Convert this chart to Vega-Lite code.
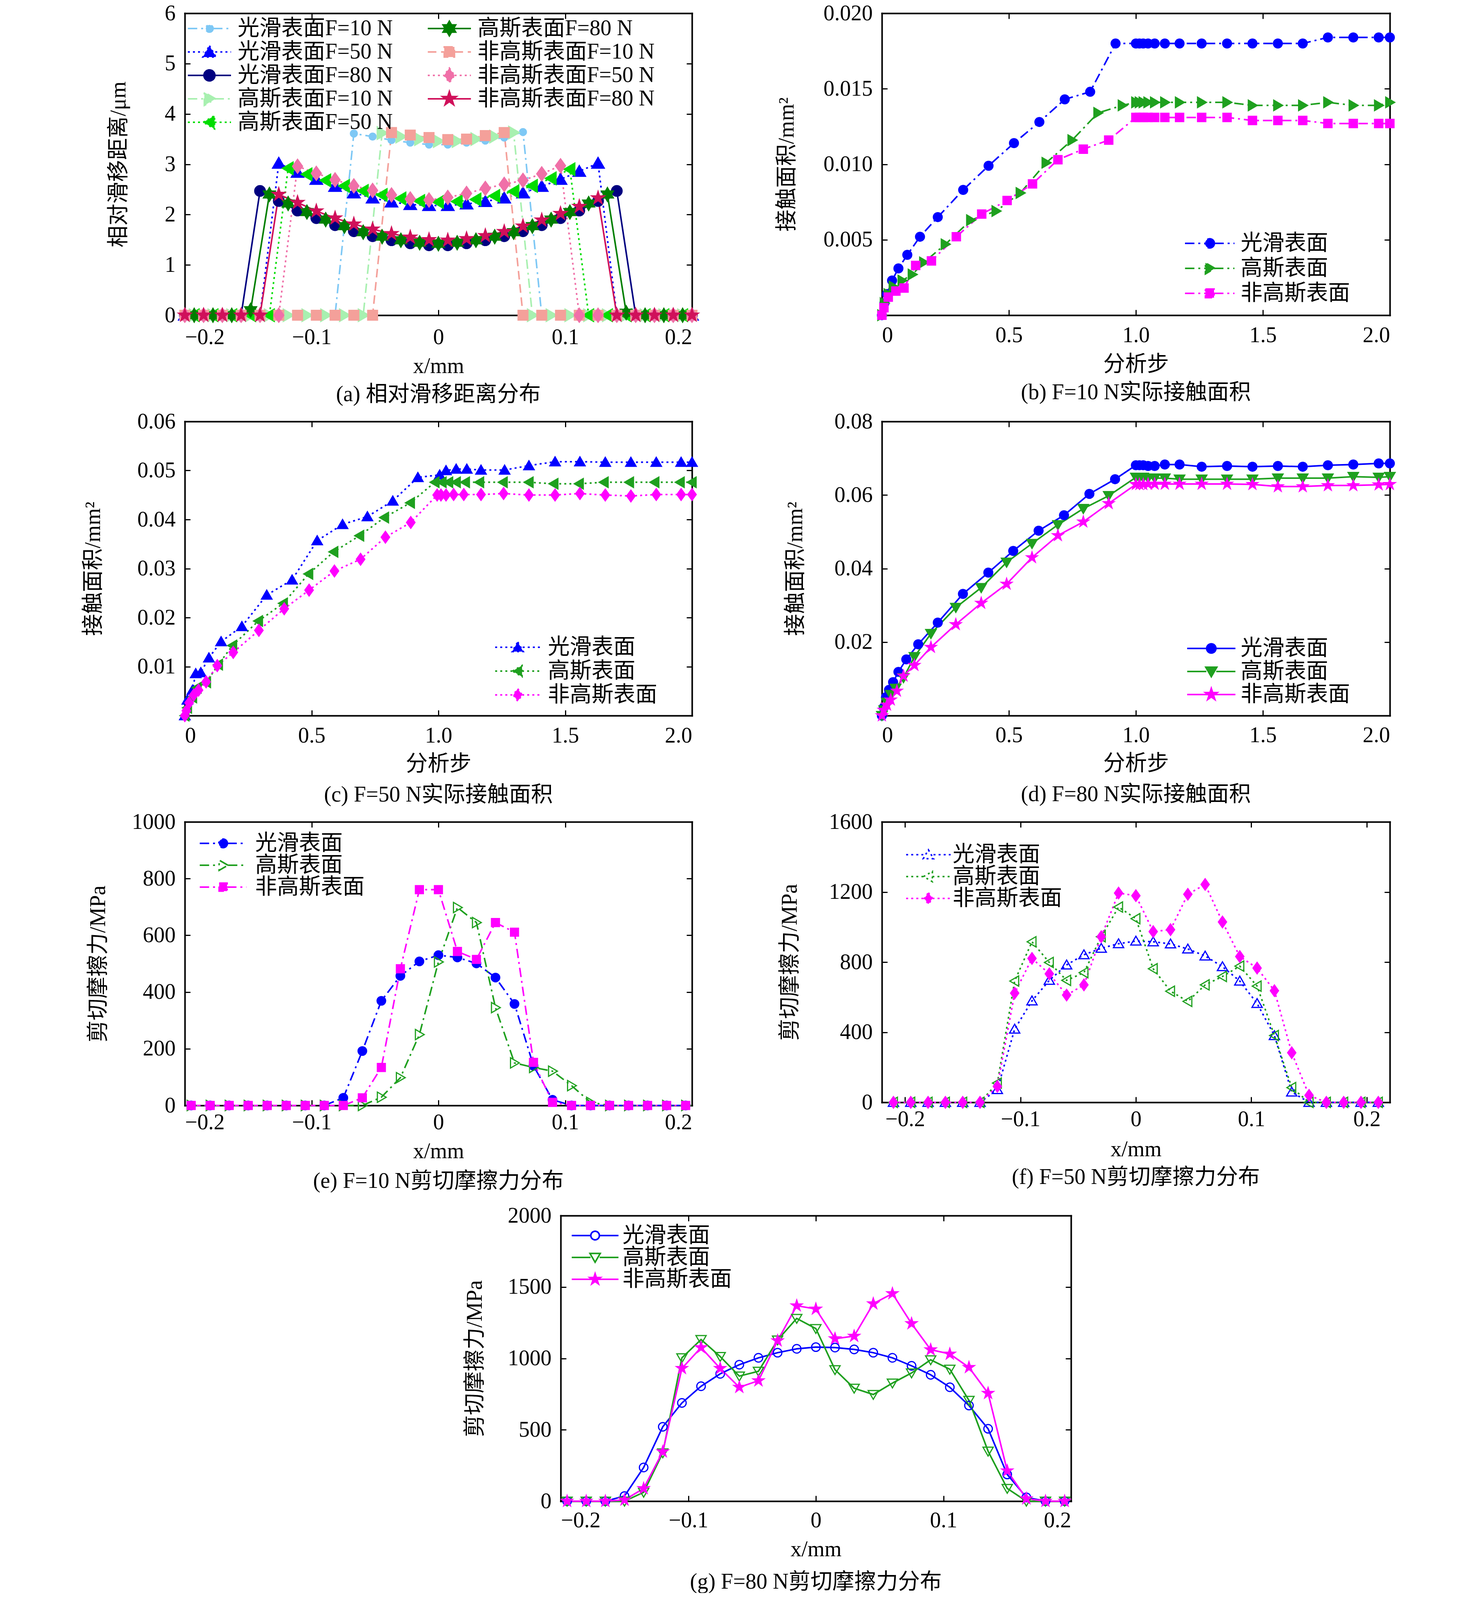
{
  "$schema": "https://vega.github.io/schema/vega-lite/v6.json",
  "background": "white",
  "padding": {"left": 210, "top": 6, "right": 10, "bottom": 0},
  "config": {
    "font": "Liberation Serif, Noto Sans CJK SC",
    "view": {"stroke": null},
    "axis": {"grid": false, "domain": true, "domainColor": "black", "domainWidth": 4, "domainCap": "square", "tickColor": "black", "tickWidth": 3, "tickSize": -14, "labelFont": "Liberation Serif", "labelFontSize": 56, "labelColor": "black", "titleFont": "Liberation Serif, Noto Sans CJK SC", "titleFontSize": 56, "titleFontWeight": "normal", "titleColor": "black"},
    "axisY": {"labelPadding": 38},
    "legend": {"labelFont": "Liberation Serif, Noto Sans CJK SC", "labelFontSize": 56, "labelColor": "black", "labelLimit": 1000, "symbolStrokeWidth": 4, "padding": 0},
    "title": {"font": "Liberation Serif, Noto Sans CJK SC", "fontSize": 56, "fontWeight": "normal", "color": "black", "orient": "bottom", "frame": "group", "offset": 20}
  },
  "datasets": {
    "a": [
      {"s":"光滑表面F=10 N","x":-0.2,"y":0},{"s":"光滑表面F=10 N","x":-0.1852,"y":0},{"s":"光滑表面F=10 N","x":-0.1704,"y":0},{"s":"光滑表面F=10 N","x":-0.1556,"y":0},{"s":"光滑表面F=10 N","x":-0.1407,"y":0},{"s":"光滑表面F=10 N","x":-0.1259,"y":0},{"s":"光滑表面F=10 N","x":-0.1111,"y":0},{"s":"光滑表面F=10 N","x":-0.0963,"y":0},{"s":"光滑表面F=10 N","x":-0.0815,"y":0},{"s":"光滑表面F=10 N","x":-0.0667,"y":3.61},{"s":"光滑表面F=10 N","x":-0.0519,"y":3.55},{"s":"光滑表面F=10 N","x":-0.037,"y":3.48},{"s":"光滑表面F=10 N","x":-0.0222,"y":3.43},{"s":"光滑表面F=10 N","x":-0.0074,"y":3.39},{"s":"光滑表面F=10 N","x":0.0074,"y":3.39},{"s":"光滑表面F=10 N","x":0.0222,"y":3.43},{"s":"光滑表面F=10 N","x":0.037,"y":3.47},{"s":"光滑表面F=10 N","x":0.0519,"y":3.53},{"s":"光滑表面F=10 N","x":0.0667,"y":3.64},{"s":"光滑表面F=10 N","x":0.0815,"y":0},{"s":"光滑表面F=10 N","x":0.0963,"y":0},{"s":"光滑表面F=10 N","x":0.1111,"y":0},{"s":"光滑表面F=10 N","x":0.1259,"y":0},{"s":"光滑表面F=10 N","x":0.1407,"y":0},{"s":"光滑表面F=10 N","x":0.1556,"y":0},{"s":"光滑表面F=10 N","x":0.1704,"y":0},{"s":"光滑表面F=10 N","x":0.1852,"y":0},{"s":"光滑表面F=10 N","x":0.2,"y":0},
      {"s":"光滑表面F=50 N","x":-0.2,"y":0},{"s":"光滑表面F=50 N","x":-0.1852,"y":0},{"s":"光滑表面F=50 N","x":-0.1704,"y":0},{"s":"光滑表面F=50 N","x":-0.1556,"y":0},{"s":"光滑表面F=50 N","x":-0.1407,"y":0},{"s":"光滑表面F=50 N","x":-0.1259,"y":3.02},{"s":"光滑表面F=50 N","x":-0.1111,"y":2.84},{"s":"光滑表面F=50 N","x":-0.0963,"y":2.7},{"s":"光滑表面F=50 N","x":-0.0815,"y":2.56},{"s":"光滑表面F=50 N","x":-0.0667,"y":2.43},{"s":"光滑表面F=50 N","x":-0.0519,"y":2.33},{"s":"光滑表面F=50 N","x":-0.037,"y":2.25},{"s":"光滑表面F=50 N","x":-0.0222,"y":2.2},{"s":"光滑表面F=50 N","x":-0.0074,"y":2.18},{"s":"光滑表面F=50 N","x":0.0074,"y":2.18},{"s":"光滑表面F=50 N","x":0.0222,"y":2.21},{"s":"光滑表面F=50 N","x":0.037,"y":2.26},{"s":"光滑表面F=50 N","x":0.0519,"y":2.33},{"s":"光滑表面F=50 N","x":0.0667,"y":2.43},{"s":"光滑表面F=50 N","x":0.0815,"y":2.56},{"s":"光滑表面F=50 N","x":0.0963,"y":2.7},{"s":"光滑表面F=50 N","x":0.1111,"y":2.86},{"s":"光滑表面F=50 N","x":0.1259,"y":3.02},{"s":"光滑表面F=50 N","x":0.1407,"y":0},{"s":"光滑表面F=50 N","x":0.1556,"y":0},{"s":"光滑表面F=50 N","x":0.1704,"y":0},{"s":"光滑表面F=50 N","x":0.1852,"y":0},{"s":"光滑表面F=50 N","x":0.2,"y":0},
      {"s":"光滑表面F=80 N","x":-0.2,"y":0},{"s":"光滑表面F=80 N","x":-0.1852,"y":0},{"s":"光滑表面F=80 N","x":-0.1704,"y":0},{"s":"光滑表面F=80 N","x":-0.1556,"y":0},{"s":"光滑表面F=80 N","x":-0.1407,"y":2.47},{"s":"光滑表面F=80 N","x":-0.1259,"y":2.27},{"s":"光滑表面F=80 N","x":-0.1111,"y":2.08},{"s":"光滑表面F=80 N","x":-0.0963,"y":1.93},{"s":"光滑表面F=80 N","x":-0.0815,"y":1.79},{"s":"光滑表面F=80 N","x":-0.0667,"y":1.67},{"s":"光滑表面F=80 N","x":-0.0519,"y":1.57},{"s":"光滑表面F=80 N","x":-0.037,"y":1.49},{"s":"光滑表面F=80 N","x":-0.0222,"y":1.43},{"s":"光滑表面F=80 N","x":-0.0074,"y":1.39},{"s":"光滑表面F=80 N","x":0.0074,"y":1.39},{"s":"光滑表面F=80 N","x":0.0222,"y":1.43},{"s":"光滑表面F=80 N","x":0.037,"y":1.49},{"s":"光滑表面F=80 N","x":0.0519,"y":1.57},{"s":"光滑表面F=80 N","x":0.0667,"y":1.67},{"s":"光滑表面F=80 N","x":0.0815,"y":1.79},{"s":"光滑表面F=80 N","x":0.0963,"y":1.93},{"s":"光滑表面F=80 N","x":0.1111,"y":2.08},{"s":"光滑表面F=80 N","x":0.1259,"y":2.27},{"s":"光滑表面F=80 N","x":0.1407,"y":2.47},{"s":"光滑表面F=80 N","x":0.1556,"y":0},{"s":"光滑表面F=80 N","x":0.1704,"y":0},{"s":"光滑表面F=80 N","x":0.1852,"y":0},{"s":"光滑表面F=80 N","x":0.2,"y":0},
      {"s":"高斯表面F=10 N","x":-0.1926,"y":0},{"s":"高斯表面F=10 N","x":-0.1778,"y":0},{"s":"高斯表面F=10 N","x":-0.163,"y":0},{"s":"高斯表面F=10 N","x":-0.1481,"y":0},{"s":"高斯表面F=10 N","x":-0.1333,"y":0},{"s":"高斯表面F=10 N","x":-0.1185,"y":0},{"s":"高斯表面F=10 N","x":-0.1037,"y":0},{"s":"高斯表面F=10 N","x":-0.0889,"y":0},{"s":"高斯表面F=10 N","x":-0.0741,"y":0},{"s":"高斯表面F=10 N","x":-0.0593,"y":0},{"s":"高斯表面F=10 N","x":-0.0444,"y":3.62},{"s":"高斯表面F=10 N","x":-0.0296,"y":3.55},{"s":"高斯表面F=10 N","x":-0.0148,"y":3.5},{"s":"高斯表面F=10 N","x":0,"y":3.46},{"s":"高斯表面F=10 N","x":0.0148,"y":3.46},{"s":"高斯表面F=10 N","x":0.0296,"y":3.5},{"s":"高斯表面F=10 N","x":0.0444,"y":3.55},{"s":"高斯表面F=10 N","x":0.0593,"y":3.63},{"s":"高斯表面F=10 N","x":0.0741,"y":0},{"s":"高斯表面F=10 N","x":0.0889,"y":0},{"s":"高斯表面F=10 N","x":0.1037,"y":0},{"s":"高斯表面F=10 N","x":0.1185,"y":0},{"s":"高斯表面F=10 N","x":0.1333,"y":0},{"s":"高斯表面F=10 N","x":0.1481,"y":0},{"s":"高斯表面F=10 N","x":0.163,"y":0},{"s":"高斯表面F=10 N","x":0.1778,"y":0},{"s":"高斯表面F=10 N","x":0.1926,"y":0},
      {"s":"高斯表面F=50 N","x":-0.1926,"y":0},{"s":"高斯表面F=50 N","x":-0.1778,"y":0},{"s":"高斯表面F=50 N","x":-0.163,"y":0},{"s":"高斯表面F=50 N","x":-0.1481,"y":0},{"s":"高斯表面F=50 N","x":-0.1333,"y":0},{"s":"高斯表面F=50 N","x":-0.1185,"y":2.92},{"s":"高斯表面F=50 N","x":-0.1037,"y":2.8},{"s":"高斯表面F=50 N","x":-0.0889,"y":2.68},{"s":"高斯表面F=50 N","x":-0.0741,"y":2.57},{"s":"高斯表面F=50 N","x":-0.0593,"y":2.47},{"s":"高斯表面F=50 N","x":-0.0444,"y":2.39},{"s":"高斯表面F=50 N","x":-0.0296,"y":2.32},{"s":"高斯表面F=50 N","x":-0.0148,"y":2.27},{"s":"高斯表面F=50 N","x":0,"y":2.25},{"s":"高斯表面F=50 N","x":0.0148,"y":2.26},{"s":"高斯表面F=50 N","x":0.0296,"y":2.3},{"s":"高斯表面F=50 N","x":0.0444,"y":2.37},{"s":"高斯表面F=50 N","x":0.0593,"y":2.46},{"s":"高斯表面F=50 N","x":0.0741,"y":2.57},{"s":"高斯表面F=50 N","x":0.0889,"y":2.72},{"s":"高斯表面F=50 N","x":0.1037,"y":2.9},{"s":"高斯表面F=50 N","x":0.1185,"y":0},{"s":"高斯表面F=50 N","x":0.1333,"y":0},{"s":"高斯表面F=50 N","x":0.1481,"y":0},{"s":"高斯表面F=50 N","x":0.163,"y":0},{"s":"高斯表面F=50 N","x":0.1778,"y":0},{"s":"高斯表面F=50 N","x":0.1926,"y":0},
      {"s":"高斯表面F=80 N","x":-0.1926,"y":0},{"s":"高斯表面F=80 N","x":-0.1778,"y":0},{"s":"高斯表面F=80 N","x":-0.163,"y":0},{"s":"高斯表面F=80 N","x":-0.1481,"y":0.1},{"s":"高斯表面F=80 N","x":-0.1333,"y":2.4},{"s":"高斯表面F=80 N","x":-0.1185,"y":2.22},{"s":"高斯表面F=80 N","x":-0.1037,"y":2.05},{"s":"高斯表面F=80 N","x":-0.0889,"y":1.9},{"s":"高斯表面F=80 N","x":-0.0741,"y":1.77},{"s":"高斯表面F=80 N","x":-0.0593,"y":1.65},{"s":"高斯表面F=80 N","x":-0.0444,"y":1.56},{"s":"高斯表面F=80 N","x":-0.0296,"y":1.49},{"s":"高斯表面F=80 N","x":-0.0148,"y":1.44},{"s":"高斯表面F=80 N","x":0,"y":1.42},{"s":"高斯表面F=80 N","x":0.0148,"y":1.44},{"s":"高斯表面F=80 N","x":0.0296,"y":1.49},{"s":"高斯表面F=80 N","x":0.0444,"y":1.56},{"s":"高斯表面F=80 N","x":0.0593,"y":1.65},{"s":"高斯表面F=80 N","x":0.0741,"y":1.77},{"s":"高斯表面F=80 N","x":0.0889,"y":1.9},{"s":"高斯表面F=80 N","x":0.1037,"y":2.05},{"s":"高斯表面F=80 N","x":0.1185,"y":2.22},{"s":"高斯表面F=80 N","x":0.1333,"y":2.4},{"s":"高斯表面F=80 N","x":0.1481,"y":0.05},{"s":"高斯表面F=80 N","x":0.163,"y":0},{"s":"高斯表面F=80 N","x":0.1778,"y":0},{"s":"高斯表面F=80 N","x":0.1926,"y":0},
      {"s":"非高斯表面F=10 N","x":-0.2,"y":0},{"s":"非高斯表面F=10 N","x":-0.1852,"y":0},{"s":"非高斯表面F=10 N","x":-0.1704,"y":0},{"s":"非高斯表面F=10 N","x":-0.1556,"y":0},{"s":"非高斯表面F=10 N","x":-0.1407,"y":0},{"s":"非高斯表面F=10 N","x":-0.1259,"y":0},{"s":"非高斯表面F=10 N","x":-0.1111,"y":0},{"s":"非高斯表面F=10 N","x":-0.0963,"y":0},{"s":"非高斯表面F=10 N","x":-0.0815,"y":0},{"s":"非高斯表面F=10 N","x":-0.0667,"y":0},{"s":"非高斯表面F=10 N","x":-0.0519,"y":0},{"s":"非高斯表面F=10 N","x":-0.037,"y":3.63},{"s":"非高斯表面F=10 N","x":-0.0222,"y":3.58},{"s":"非高斯表面F=10 N","x":-0.0074,"y":3.53},{"s":"非高斯表面F=10 N","x":0.0074,"y":3.49},{"s":"非高斯表面F=10 N","x":0.0222,"y":3.5},{"s":"非高斯表面F=10 N","x":0.037,"y":3.57},{"s":"非高斯表面F=10 N","x":0.0519,"y":3.63},{"s":"非高斯表面F=10 N","x":0.0667,"y":0},{"s":"非高斯表面F=10 N","x":0.0815,"y":0},{"s":"非高斯表面F=10 N","x":0.0963,"y":0},{"s":"非高斯表面F=10 N","x":0.1111,"y":0},{"s":"非高斯表面F=10 N","x":0.1259,"y":0},{"s":"非高斯表面F=10 N","x":0.1407,"y":0},{"s":"非高斯表面F=10 N","x":0.1556,"y":0},{"s":"非高斯表面F=10 N","x":0.1704,"y":0},{"s":"非高斯表面F=10 N","x":0.1852,"y":0},{"s":"非高斯表面F=10 N","x":0.2,"y":0},
      {"s":"非高斯表面F=50 N","x":-0.2,"y":0},{"s":"非高斯表面F=50 N","x":-0.1852,"y":0},{"s":"非高斯表面F=50 N","x":-0.1704,"y":0},{"s":"非高斯表面F=50 N","x":-0.1556,"y":0},{"s":"非高斯表面F=50 N","x":-0.1407,"y":0},{"s":"非高斯表面F=50 N","x":-0.1259,"y":0},{"s":"非高斯表面F=50 N","x":-0.1111,"y":2.96},{"s":"非高斯表面F=50 N","x":-0.0963,"y":2.82},{"s":"非高斯表面F=50 N","x":-0.0815,"y":2.69},{"s":"非高斯表面F=50 N","x":-0.0667,"y":2.57},{"s":"非高斯表面F=50 N","x":-0.0519,"y":2.48},{"s":"非高斯表面F=50 N","x":-0.037,"y":2.39},{"s":"非高斯表面F=50 N","x":-0.0222,"y":2.31},{"s":"非高斯表面F=50 N","x":-0.0074,"y":2.29},{"s":"非高斯表面F=50 N","x":0.0074,"y":2.34},{"s":"非高斯表面F=50 N","x":0.0222,"y":2.42},{"s":"非高斯表面F=50 N","x":0.037,"y":2.52},{"s":"非高斯表面F=50 N","x":0.0519,"y":2.6},{"s":"非高斯表面F=50 N","x":0.0667,"y":2.68},{"s":"非高斯表面F=50 N","x":0.0815,"y":2.81},{"s":"非高斯表面F=50 N","x":0.0963,"y":2.97},{"s":"非高斯表面F=50 N","x":0.1111,"y":0},{"s":"非高斯表面F=50 N","x":0.1259,"y":0},{"s":"非高斯表面F=50 N","x":0.1407,"y":0},{"s":"非高斯表面F=50 N","x":0.1556,"y":0},{"s":"非高斯表面F=50 N","x":0.1704,"y":0},{"s":"非高斯表面F=50 N","x":0.1852,"y":0},{"s":"非高斯表面F=50 N","x":0.2,"y":0},
      {"s":"非高斯表面F=80 N","x":-0.2,"y":0},{"s":"非高斯表面F=80 N","x":-0.1852,"y":0},{"s":"非高斯表面F=80 N","x":-0.1704,"y":0},{"s":"非高斯表面F=80 N","x":-0.1556,"y":0},{"s":"非高斯表面F=80 N","x":-0.1407,"y":0},{"s":"非高斯表面F=80 N","x":-0.1259,"y":2.4},{"s":"非高斯表面F=80 N","x":-0.1111,"y":2.24},{"s":"非高斯表面F=80 N","x":-0.0963,"y":2.07},{"s":"非高斯表面F=80 N","x":-0.0815,"y":1.93},{"s":"非高斯表面F=80 N","x":-0.0667,"y":1.81},{"s":"非高斯表面F=80 N","x":-0.0519,"y":1.71},{"s":"非高斯表面F=80 N","x":-0.037,"y":1.62},{"s":"非高斯表面F=80 N","x":-0.0222,"y":1.55},{"s":"非高斯表面F=80 N","x":-0.0074,"y":1.5},{"s":"非高斯表面F=80 N","x":0.0074,"y":1.49},{"s":"非高斯表面F=80 N","x":0.0222,"y":1.52},{"s":"非高斯表面F=80 N","x":0.037,"y":1.58},{"s":"非高斯表面F=80 N","x":0.0519,"y":1.66},{"s":"非高斯表面F=80 N","x":0.0667,"y":1.77},{"s":"非高斯表面F=80 N","x":0.0815,"y":1.89},{"s":"非高斯表面F=80 N","x":0.0963,"y":2.02},{"s":"非高斯表面F=80 N","x":0.1111,"y":2.16},{"s":"非高斯表面F=80 N","x":0.1259,"y":2.33},{"s":"非高斯表面F=80 N","x":0.1407,"y":0},{"s":"非高斯表面F=80 N","x":0.1556,"y":0},{"s":"非高斯表面F=80 N","x":0.1704,"y":0},{"s":"非高斯表面F=80 N","x":0.1852,"y":0},{"s":"非高斯表面F=80 N","x":0.2,"y":0}
    ],
    "b": [
      {"s":"光滑表面","x":0,"y":0},{"s":"光滑表面","x":0.01,"y":0.0008},{"s":"光滑表面","x":0.02,"y":0.0014},{"s":"光滑表面","x":0.04,"y":0.0023},{"s":"光滑表面","x":0.065,"y":0.0031},{"s":"光滑表面","x":0.1,"y":0.004},{"s":"光滑表面","x":0.15,"y":0.0052},{"s":"光滑表面","x":0.22,"y":0.0065},{"s":"光滑表面","x":0.32,"y":0.0083},{"s":"光滑表面","x":0.42,"y":0.0099},{"s":"光滑表面","x":0.52,"y":0.0114},{"s":"光滑表面","x":0.62,"y":0.0128},{"s":"光滑表面","x":0.72,"y":0.0143},{"s":"光滑表面","x":0.82,"y":0.0148},{"s":"光滑表面","x":0.92,"y":0.018},{"s":"光滑表面","x":1.0,"y":0.018},{"s":"光滑表面","x":1.014,"y":0.018},{"s":"光滑表面","x":1.029,"y":0.018},{"s":"光滑表面","x":1.048,"y":0.018},{"s":"光滑表面","x":1.074,"y":0.018},{"s":"光滑表面","x":1.114,"y":0.018},{"s":"光滑表面","x":1.172,"y":0.018},{"s":"光滑表面","x":1.259,"y":0.018},{"s":"光滑表面","x":1.359,"y":0.018},{"s":"光滑表面","x":1.459,"y":0.018},{"s":"光滑表面","x":1.559,"y":0.018},{"s":"光滑表面","x":1.657,"y":0.018},{"s":"光滑表面","x":1.756,"y":0.0184},{"s":"光滑表面","x":1.856,"y":0.0184},{"s":"光滑表面","x":1.956,"y":0.0184},{"s":"光滑表面","x":2.0,"y":0.0184},
      {"s":"高斯表面","x":0,"y":0},{"s":"高斯表面","x":0.01,"y":0.0008},{"s":"高斯表面","x":0.025,"y":0.0014},{"s":"高斯表面","x":0.045,"y":0.0019},{"s":"高斯表面","x":0.08,"y":0.0023},{"s":"高斯表面","x":0.12,"y":0.0027},{"s":"高斯表面","x":0.165,"y":0.0035},{"s":"高斯表面","x":0.25,"y":0.0047},{"s":"高斯表面","x":0.35,"y":0.0063},{"s":"高斯表面","x":0.45,"y":0.0069},{"s":"高斯表面","x":0.545,"y":0.0081},{"s":"高斯表面","x":0.647,"y":0.0101},{"s":"高斯表面","x":0.749,"y":0.0116},{"s":"高斯表面","x":0.851,"y":0.0134},{"s":"高斯表面","x":0.947,"y":0.0139},{"s":"高斯表面","x":1.0,"y":0.0141},{"s":"高斯表面","x":1.014,"y":0.0141},{"s":"高斯表面","x":1.029,"y":0.0141},{"s":"高斯表面","x":1.048,"y":0.0141},{"s":"高斯表面","x":1.074,"y":0.0141},{"s":"高斯表面","x":1.114,"y":0.0141},{"s":"高斯表面","x":1.172,"y":0.0141},{"s":"高斯表面","x":1.259,"y":0.0141},{"s":"高斯表面","x":1.359,"y":0.0141},{"s":"高斯表面","x":1.459,"y":0.0139},{"s":"高斯表面","x":1.559,"y":0.0139},{"s":"高斯表面","x":1.657,"y":0.0139},{"s":"高斯表面","x":1.756,"y":0.0141},{"s":"高斯表面","x":1.856,"y":0.0139},{"s":"高斯表面","x":1.956,"y":0.0139},{"s":"高斯表面","x":2.0,"y":0.0141},
      {"s":"非高斯表面","x":0,"y":0},{"s":"非高斯表面","x":0.008,"y":0.0005},{"s":"非高斯表面","x":0.025,"y":0.0012},{"s":"非高斯表面","x":0.055,"y":0.0016},{"s":"非高斯表面","x":0.087,"y":0.0018},{"s":"非高斯表面","x":0.133,"y":0.0033},{"s":"非高斯表面","x":0.195,"y":0.0036},{"s":"非高斯表面","x":0.293,"y":0.0052},{"s":"非高斯表面","x":0.393,"y":0.0067},{"s":"非高斯表面","x":0.493,"y":0.0076},{"s":"非高斯表面","x":0.593,"y":0.0087},{"s":"非高斯表面","x":0.693,"y":0.0103},{"s":"非高斯表面","x":0.793,"y":0.011},{"s":"非高斯表面","x":0.893,"y":0.0116},{"s":"非高斯表面","x":1.0,"y":0.0131},{"s":"非高斯表面","x":1.014,"y":0.0131},{"s":"非高斯表面","x":1.029,"y":0.0131},{"s":"非高斯表面","x":1.048,"y":0.0131},{"s":"非高斯表面","x":1.074,"y":0.0131},{"s":"非高斯表面","x":1.114,"y":0.0131},{"s":"非高斯表面","x":1.172,"y":0.0131},{"s":"非高斯表面","x":1.259,"y":0.0131},{"s":"非高斯表面","x":1.359,"y":0.0131},{"s":"非高斯表面","x":1.459,"y":0.0129},{"s":"非高斯表面","x":1.559,"y":0.0129},{"s":"非高斯表面","x":1.657,"y":0.0129},{"s":"非高斯表面","x":1.756,"y":0.0127},{"s":"非高斯表面","x":1.856,"y":0.0127},{"s":"非高斯表面","x":1.956,"y":0.0127},{"s":"非高斯表面","x":2.0,"y":0.0127}
    ],
    "c": [
      {"s":"光滑表面","x":0,"y":0},{"s":"光滑表面","x":0.01,"y":0.0032},{"s":"光滑表面","x":0.03,"y":0.0052},{"s":"光滑表面","x":0.043,"y":0.0086},{"s":"光滑表面","x":0.063,"y":0.0088},{"s":"光滑表面","x":0.095,"y":0.0118},{"s":"光滑表面","x":0.143,"y":0.0151},{"s":"光滑表面","x":0.225,"y":0.0182},{"s":"光滑表面","x":0.323,"y":0.0246},{"s":"光滑表面","x":0.423,"y":0.0277},{"s":"光滑表面","x":0.522,"y":0.0357},{"s":"光滑表面","x":0.622,"y":0.039},{"s":"光滑表面","x":0.72,"y":0.0406},{"s":"光滑表面","x":0.82,"y":0.0438},{"s":"光滑表面","x":0.919,"y":0.0486},{"s":"光滑表面","x":1.005,"y":0.0491},{"s":"光滑表面","x":1.03,"y":0.05},{"s":"光滑表面","x":1.07,"y":0.0503},{"s":"光滑表面","x":1.112,"y":0.0503},{"s":"光滑表面","x":1.168,"y":0.0501},{"s":"光滑表面","x":1.261,"y":0.0501},{"s":"光滑表面","x":1.357,"y":0.051},{"s":"光滑表面","x":1.46,"y":0.0518},{"s":"光滑表面","x":1.558,"y":0.0518},{"s":"光滑表面","x":1.658,"y":0.0517},{"s":"光滑表面","x":1.759,"y":0.0517},{"s":"光滑表面","x":1.859,"y":0.0517},{"s":"光滑表面","x":1.957,"y":0.0517},{"s":"光滑表面","x":2.0,"y":0.0517},
      {"s":"高斯表面","x":0,"y":0},{"s":"高斯表面","x":0.01,"y":0.0016},{"s":"高斯表面","x":0.03,"y":0.0037},{"s":"高斯表面","x":0.048,"y":0.0057},{"s":"高斯表面","x":0.085,"y":0.0068},{"s":"高斯表面","x":0.132,"y":0.0104},{"s":"高斯表面","x":0.188,"y":0.0143},{"s":"高斯表面","x":0.29,"y":0.0193},{"s":"高斯表面","x":0.388,"y":0.0229},{"s":"高斯表面","x":0.488,"y":0.0289},{"s":"高斯表面","x":0.587,"y":0.0334},{"s":"高斯表面","x":0.689,"y":0.0367},{"s":"高斯表面","x":0.787,"y":0.0404},{"s":"高斯表面","x":0.889,"y":0.0434},{"s":"高斯表面","x":0.986,"y":0.0476},{"s":"高斯表面","x":1.014,"y":0.0476},{"s":"高斯表面","x":1.04,"y":0.0476},{"s":"高斯表面","x":1.07,"y":0.0476},{"s":"高斯表面","x":1.106,"y":0.0476},{"s":"高斯表面","x":1.162,"y":0.0476},{"s":"高斯表面","x":1.255,"y":0.0476},{"s":"高斯表面","x":1.357,"y":0.0476},{"s":"高斯表面","x":1.455,"y":0.0473},{"s":"高斯表面","x":1.555,"y":0.0473},{"s":"高斯表面","x":1.653,"y":0.0476},{"s":"高斯表面","x":1.753,"y":0.0476},{"s":"高斯表面","x":1.853,"y":0.0476},{"s":"高斯表面","x":1.953,"y":0.0476},{"s":"高斯表面","x":2.0,"y":0.0476},
      {"s":"非高斯表面","x":0,"y":0},{"s":"非高斯表面","x":0.006,"y":0.001},{"s":"非高斯表面","x":0.017,"y":0.0026},{"s":"非高斯表面","x":0.035,"y":0.0042},{"s":"非高斯表面","x":0.054,"y":0.0052},{"s":"非高斯表面","x":0.084,"y":0.0069},{"s":"非高斯表面","x":0.128,"y":0.0102},{"s":"非高斯表面","x":0.191,"y":0.0129},{"s":"非高斯表面","x":0.292,"y":0.0174},{"s":"非高斯表面","x":0.392,"y":0.0218},{"s":"非高斯表面","x":0.49,"y":0.0256},{"s":"非高斯表面","x":0.59,"y":0.0295},{"s":"非高斯表面","x":0.693,"y":0.0319},{"s":"非高斯表面","x":0.791,"y":0.0364},{"s":"非高斯表面","x":0.891,"y":0.0394},{"s":"非高斯表面","x":0.995,"y":0.045},{"s":"非高斯表面","x":1.01,"y":0.045},{"s":"非高斯表面","x":1.03,"y":0.045},{"s":"非高斯表面","x":1.06,"y":0.0451},{"s":"非高斯表面","x":1.1,"y":0.0451},{"s":"非高斯表面","x":1.168,"y":0.0451},{"s":"非高斯表面","x":1.257,"y":0.0453},{"s":"非高斯表面","x":1.357,"y":0.045},{"s":"非高斯表面","x":1.46,"y":0.045},{"s":"非高斯表面","x":1.558,"y":0.0453},{"s":"非高斯表面","x":1.658,"y":0.045},{"s":"非高斯表面","x":1.759,"y":0.0448},{"s":"非高斯表面","x":1.859,"y":0.0451},{"s":"非高斯表面","x":1.957,"y":0.0451},{"s":"非高斯表面","x":2.0,"y":0.0451}
    ],
    "d": [
      {"s":"光滑表面","x":0,"y":0},{"s":"光滑表面","x":0.007,"y":0.0022},{"s":"光滑表面","x":0.016,"y":0.005},{"s":"光滑表面","x":0.028,"y":0.007},{"s":"光滑表面","x":0.044,"y":0.0091},{"s":"光滑表面","x":0.065,"y":0.0119},{"s":"光滑表面","x":0.096,"y":0.0153},{"s":"光滑表面","x":0.143,"y":0.0194},{"s":"光滑表面","x":0.22,"y":0.0253},{"s":"光滑表面","x":0.319,"y":0.0331},{"s":"光滑表面","x":0.419,"y":0.0389},{"s":"光滑表面","x":0.517,"y":0.0448},{"s":"光滑表面","x":0.617,"y":0.0503},{"s":"光滑表面","x":0.717,"y":0.0545},{"s":"光滑表面","x":0.817,"y":0.0603},{"s":"光滑表面","x":0.918,"y":0.0643},{"s":"光滑表面","x":1.0,"y":0.0681},{"s":"光滑表面","x":1.014,"y":0.0681},{"s":"光滑表面","x":1.029,"y":0.0681},{"s":"光滑表面","x":1.048,"y":0.0679},{"s":"光滑表面","x":1.074,"y":0.0679},{"s":"光滑表面","x":1.114,"y":0.0683},{"s":"光滑表面","x":1.172,"y":0.0683},{"s":"光滑表面","x":1.259,"y":0.0677},{"s":"光滑表面","x":1.359,"y":0.0679},{"s":"光滑表面","x":1.459,"y":0.0677},{"s":"光滑表面","x":1.559,"y":0.0679},{"s":"光滑表面","x":1.657,"y":0.0677},{"s":"光滑表面","x":1.756,"y":0.0681},{"s":"光滑表面","x":1.856,"y":0.0683},{"s":"光滑表面","x":1.956,"y":0.0686},{"s":"光滑表面","x":2.0,"y":0.0686},
      {"s":"高斯表面","x":0,"y":0},{"s":"高斯表面","x":0.009,"y":0.0015},{"s":"高斯表面","x":0.02,"y":0.0036},{"s":"高斯表面","x":0.035,"y":0.0057},{"s":"高斯表面","x":0.054,"y":0.0074},{"s":"高斯表面","x":0.085,"y":0.0103},{"s":"高斯表面","x":0.128,"y":0.016},{"s":"高斯表面","x":0.193,"y":0.0223},{"s":"高斯表面","x":0.291,"y":0.0294},{"s":"高斯表面","x":0.391,"y":0.0348},{"s":"高斯表面","x":0.491,"y":0.0417},{"s":"高斯表面","x":0.591,"y":0.0468},{"s":"高斯表面","x":0.693,"y":0.0519},{"s":"高斯表面","x":0.793,"y":0.0563},{"s":"高斯表面","x":0.893,"y":0.0598},{"s":"高斯表面","x":1.0,"y":0.0648},{"s":"高斯表面","x":1.014,"y":0.0648},{"s":"高斯表面","x":1.029,"y":0.0648},{"s":"高斯表面","x":1.048,"y":0.0646},{"s":"高斯表面","x":1.074,"y":0.0646},{"s":"高斯表面","x":1.114,"y":0.0646},{"s":"高斯表面","x":1.172,"y":0.0643},{"s":"高斯表面","x":1.259,"y":0.0643},{"s":"高斯表面","x":1.359,"y":0.0643},{"s":"高斯表面","x":1.459,"y":0.0643},{"s":"高斯表面","x":1.559,"y":0.0646},{"s":"高斯表面","x":1.657,"y":0.0646},{"s":"高斯表面","x":1.756,"y":0.0646},{"s":"高斯表面","x":1.856,"y":0.065},{"s":"高斯表面","x":1.956,"y":0.0648},{"s":"高斯表面","x":2.0,"y":0.065},
      {"s":"非高斯表面","x":0,"y":0},{"s":"非高斯表面","x":0.007,"y":0.0015},{"s":"非高斯表面","x":0.02,"y":0.0029},{"s":"非高斯表面","x":0.035,"y":0.0043},{"s":"非高斯表面","x":0.059,"y":0.0067},{"s":"非高斯表面","x":0.085,"y":0.0108},{"s":"非高斯表面","x":0.128,"y":0.0137},{"s":"非高斯表面","x":0.193,"y":0.0186},{"s":"非高斯表面","x":0.291,"y":0.0248},{"s":"非高斯表面","x":0.391,"y":0.0306},{"s":"非高斯表面","x":0.491,"y":0.0358},{"s":"非高斯表面","x":0.591,"y":0.043},{"s":"非高斯表面","x":0.693,"y":0.049},{"s":"非高斯表面","x":0.793,"y":0.0527},{"s":"非高斯表面","x":0.893,"y":0.0577},{"s":"非高斯表面","x":1.0,"y":0.0629},{"s":"非高斯表面","x":1.014,"y":0.0629},{"s":"非高斯表面","x":1.029,"y":0.0629},{"s":"非高斯表面","x":1.048,"y":0.063},{"s":"非高斯表面","x":1.074,"y":0.063},{"s":"非高斯表面","x":1.114,"y":0.063},{"s":"非高斯表面","x":1.172,"y":0.063},{"s":"非高斯表面","x":1.259,"y":0.063},{"s":"非高斯表面","x":1.359,"y":0.063},{"s":"非高斯表面","x":1.459,"y":0.0629},{"s":"非高斯表面","x":1.559,"y":0.0623},{"s":"非高斯表面","x":1.657,"y":0.0623},{"s":"非高斯表面","x":1.756,"y":0.0626},{"s":"非高斯表面","x":1.856,"y":0.0626},{"s":"非高斯表面","x":1.956,"y":0.0628},{"s":"非高斯表面","x":2.0,"y":0.0629}
    ],
    "e": [
      {"s":"光滑表面","x":-0.195,"y":0},{"s":"光滑表面","x":-0.18,"y":0},{"s":"光滑表面","x":-0.165,"y":0},{"s":"光滑表面","x":-0.15,"y":0},{"s":"光滑表面","x":-0.135,"y":0},{"s":"光滑表面","x":-0.12,"y":0},{"s":"光滑表面","x":-0.105,"y":0},{"s":"光滑表面","x":-0.09,"y":0},{"s":"光滑表面","x":-0.075,"y":27},{"s":"光滑表面","x":-0.06,"y":192},{"s":"光滑表面","x":-0.045,"y":369},{"s":"光滑表面","x":-0.03,"y":457},{"s":"光滑表面","x":-0.015,"y":508},{"s":"光滑表面","x":0,"y":530},{"s":"光滑表面","x":0.015,"y":522},{"s":"光滑表面","x":0.03,"y":501},{"s":"光滑表面","x":0.045,"y":451},{"s":"光滑表面","x":0.06,"y":358},{"s":"光滑表面","x":0.075,"y":140},{"s":"光滑表面","x":0.09,"y":20},{"s":"光滑表面","x":0.105,"y":0},{"s":"光滑表面","x":0.12,"y":0},{"s":"光滑表面","x":0.135,"y":0},{"s":"光滑表面","x":0.15,"y":0},{"s":"光滑表面","x":0.165,"y":0},{"s":"光滑表面","x":0.18,"y":0},{"s":"光滑表面","x":0.195,"y":0},
      {"s":"高斯表面","x":-0.195,"y":0},{"s":"高斯表面","x":-0.18,"y":0},{"s":"高斯表面","x":-0.165,"y":0},{"s":"高斯表面","x":-0.15,"y":0},{"s":"高斯表面","x":-0.135,"y":0},{"s":"高斯表面","x":-0.12,"y":0},{"s":"高斯表面","x":-0.105,"y":0},{"s":"高斯表面","x":-0.09,"y":0},{"s":"高斯表面","x":-0.075,"y":0},{"s":"高斯表面","x":-0.06,"y":0},{"s":"高斯表面","x":-0.045,"y":29},{"s":"高斯表面","x":-0.03,"y":98},{"s":"高斯表面","x":-0.015,"y":250},{"s":"高斯表面","x":0,"y":506},{"s":"高斯表面","x":0.015,"y":698},{"s":"高斯表面","x":0.03,"y":645},{"s":"高斯表面","x":0.045,"y":345},{"s":"高斯表面","x":0.06,"y":150},{"s":"高斯表面","x":0.075,"y":134},{"s":"高斯表面","x":0.09,"y":121},{"s":"高斯表面","x":0.105,"y":70},{"s":"高斯表面","x":0.12,"y":11},{"s":"高斯表面","x":0.135,"y":0},{"s":"高斯表面","x":0.15,"y":0},{"s":"高斯表面","x":0.165,"y":0},{"s":"高斯表面","x":0.18,"y":0},{"s":"高斯表面","x":0.195,"y":0},
      {"s":"非高斯表面","x":-0.195,"y":0},{"s":"非高斯表面","x":-0.18,"y":0},{"s":"非高斯表面","x":-0.165,"y":0},{"s":"非高斯表面","x":-0.15,"y":0},{"s":"非高斯表面","x":-0.135,"y":0},{"s":"非高斯表面","x":-0.12,"y":0},{"s":"非高斯表面","x":-0.105,"y":0},{"s":"非高斯表面","x":-0.09,"y":0},{"s":"非高斯表面","x":-0.075,"y":0},{"s":"非高斯表面","x":-0.06,"y":27},{"s":"非高斯表面","x":-0.045,"y":134},{"s":"非高斯表面","x":-0.03,"y":482},{"s":"非高斯表面","x":-0.015,"y":761},{"s":"非高斯表面","x":0,"y":761},{"s":"非高斯表面","x":0.015,"y":543},{"s":"非高斯表面","x":0.03,"y":515},{"s":"非高斯表面","x":0.045,"y":645},{"s":"非高斯表面","x":0.06,"y":611},{"s":"非高斯表面","x":0.075,"y":152},{"s":"非高斯表面","x":0.09,"y":11},{"s":"非高斯表面","x":0.105,"y":0},{"s":"非高斯表面","x":0.12,"y":0},{"s":"非高斯表面","x":0.135,"y":0},{"s":"非高斯表面","x":0.15,"y":0},{"s":"非高斯表面","x":0.165,"y":0},{"s":"非高斯表面","x":0.18,"y":0},{"s":"非高斯表面","x":0.195,"y":0}
    ],
    "f": [
      {"s":"光滑表面","x":-0.21,"y":0},{"s":"光滑表面","x":-0.195,"y":0},{"s":"光滑表面","x":-0.18,"y":0},{"s":"光滑表面","x":-0.165,"y":0},{"s":"光滑表面","x":-0.15,"y":0},{"s":"光滑表面","x":-0.135,"y":0},{"s":"光滑表面","x":-0.12,"y":73},{"s":"光滑表面","x":-0.105,"y":418},{"s":"光滑表面","x":-0.09,"y":579},{"s":"光滑表面","x":-0.075,"y":696},{"s":"光滑表面","x":-0.06,"y":784},{"s":"光滑表面","x":-0.045,"y":842},{"s":"光滑表面","x":-0.03,"y":879},{"s":"光滑表面","x":-0.015,"y":905},{"s":"光滑表面","x":0,"y":920},{"s":"光滑表面","x":0.015,"y":916},{"s":"光滑表面","x":0.03,"y":904},{"s":"光滑表面","x":0.045,"y":875},{"s":"光滑表面","x":0.06,"y":835},{"s":"光滑表面","x":0.075,"y":774},{"s":"光滑表面","x":0.09,"y":692},{"s":"光滑表面","x":0.105,"y":564},{"s":"光滑表面","x":0.12,"y":381},{"s":"光滑表面","x":0.135,"y":59},{"s":"光滑表面","x":0.15,"y":0},{"s":"光滑表面","x":0.165,"y":0},{"s":"光滑表面","x":0.18,"y":0},{"s":"光滑表面","x":0.195,"y":0},{"s":"光滑表面","x":0.21,"y":0},
      {"s":"高斯表面","x":-0.21,"y":0},{"s":"高斯表面","x":-0.195,"y":0},{"s":"高斯表面","x":-0.18,"y":0},{"s":"高斯表面","x":-0.165,"y":0},{"s":"高斯表面","x":-0.15,"y":0},{"s":"高斯表面","x":-0.135,"y":0},{"s":"高斯表面","x":-0.12,"y":110},{"s":"高斯表面","x":-0.105,"y":692},{"s":"高斯表面","x":-0.09,"y":916},{"s":"高斯表面","x":-0.075,"y":798},{"s":"高斯表面","x":-0.06,"y":696},{"s":"高斯表面","x":-0.045,"y":740},{"s":"高斯表面","x":-0.03,"y":945},{"s":"高斯表面","x":-0.015,"y":1114},{"s":"高斯表面","x":0,"y":1048},{"s":"高斯表面","x":0.015,"y":762},{"s":"高斯表面","x":0.03,"y":634},{"s":"高斯表面","x":0.045,"y":576},{"s":"高斯表面","x":0.06,"y":670},{"s":"高斯表面","x":0.075,"y":718},{"s":"高斯表面","x":0.09,"y":777},{"s":"高斯表面","x":0.105,"y":663},{"s":"高斯表面","x":0.12,"y":381},{"s":"高斯表面","x":0.135,"y":84},{"s":"高斯表面","x":0.15,"y":0},{"s":"高斯表面","x":0.165,"y":0},{"s":"高斯表面","x":0.18,"y":0},{"s":"高斯表面","x":0.195,"y":0},{"s":"高斯表面","x":0.21,"y":0},
      {"s":"非高斯表面","x":-0.21,"y":0},{"s":"非高斯表面","x":-0.195,"y":0},{"s":"非高斯表面","x":-0.18,"y":0},{"s":"非高斯表面","x":-0.165,"y":0},{"s":"非高斯表面","x":-0.15,"y":0},{"s":"非高斯表面","x":-0.135,"y":0},{"s":"非高斯表面","x":-0.12,"y":91},{"s":"非高斯表面","x":-0.105,"y":623},{"s":"非高斯表面","x":-0.09,"y":821},{"s":"非高斯表面","x":-0.075,"y":733},{"s":"非高斯表面","x":-0.06,"y":612},{"s":"非高斯表面","x":-0.045,"y":670},{"s":"非高斯表面","x":-0.03,"y":945},{"s":"非高斯表面","x":-0.015,"y":1194},{"s":"非高斯表面","x":0,"y":1179},{"s":"非高斯表面","x":0.015,"y":974},{"s":"非高斯表面","x":0.03,"y":985},{"s":"非高斯表面","x":0.045,"y":1187},{"s":"非高斯表面","x":0.06,"y":1243},{"s":"非高斯表面","x":0.075,"y":1029},{"s":"非高斯表面","x":0.09,"y":832},{"s":"非高斯表面","x":0.105,"y":766},{"s":"非高斯表面","x":0.12,"y":637},{"s":"非高斯表面","x":0.135,"y":283},{"s":"非高斯表面","x":0.15,"y":40},{"s":"非高斯表面","x":0.165,"y":0},{"s":"非高斯表面","x":0.18,"y":0},{"s":"非高斯表面","x":0.195,"y":0},{"s":"非高斯表面","x":0.21,"y":0}
    ],
    "g": [
      {"s":"光滑表面","x":-0.195,"y":0},{"s":"光滑表面","x":-0.18,"y":0},{"s":"光滑表面","x":-0.165,"y":0},{"s":"光滑表面","x":-0.15,"y":36},{"s":"光滑表面","x":-0.135,"y":236},{"s":"光滑表面","x":-0.12,"y":521},{"s":"光滑表面","x":-0.105,"y":688},{"s":"光滑表面","x":-0.09,"y":805},{"s":"光滑表面","x":-0.075,"y":892},{"s":"光滑表面","x":-0.06,"y":956},{"s":"光滑表面","x":-0.045,"y":1004},{"s":"光滑表面","x":-0.03,"y":1040},{"s":"光滑表面","x":-0.015,"y":1067},{"s":"光滑表面","x":0,"y":1079},{"s":"光滑表面","x":0.015,"y":1076},{"s":"光滑表面","x":0.03,"y":1063},{"s":"光滑表面","x":0.045,"y":1040},{"s":"光滑表面","x":0.06,"y":1004},{"s":"光滑表面","x":0.075,"y":948},{"s":"光滑表面","x":0.09,"y":885},{"s":"光滑表面","x":0.105,"y":798},{"s":"光滑表面","x":0.12,"y":670},{"s":"光滑表面","x":0.135,"y":507},{"s":"光滑表面","x":0.15,"y":187},{"s":"光滑表面","x":0.165,"y":27},{"s":"光滑表面","x":0.18,"y":0},{"s":"光滑表面","x":0.195,"y":0},
      {"s":"高斯表面","x":-0.195,"y":0},{"s":"高斯表面","x":-0.18,"y":0},{"s":"高斯表面","x":-0.165,"y":0},{"s":"高斯表面","x":-0.15,"y":0},{"s":"高斯表面","x":-0.135,"y":62},{"s":"高斯表面","x":-0.12,"y":338},{"s":"高斯表面","x":-0.105,"y":1004},{"s":"高斯表面","x":-0.09,"y":1132},{"s":"高斯表面","x":-0.075,"y":1013},{"s":"高斯表面","x":-0.06,"y":876},{"s":"高斯表面","x":-0.045,"y":910},{"s":"高斯表面","x":-0.03,"y":1129},{"s":"高斯表面","x":-0.015,"y":1280},{"s":"高斯表面","x":0,"y":1209},{"s":"高斯表面","x":0.015,"y":921},{"s":"高斯表面","x":0.03,"y":791},{"s":"高斯表面","x":0.045,"y":747},{"s":"高斯表面","x":0.06,"y":827},{"s":"高斯表面","x":0.075,"y":898},{"s":"高斯表面","x":0.09,"y":990},{"s":"高斯表面","x":0.105,"y":924},{"s":"高斯表面","x":0.12,"y":706},{"s":"高斯表面","x":0.135,"y":350},{"s":"高斯表面","x":0.15,"y":89},{"s":"高斯表面","x":0.165,"y":0},{"s":"高斯表面","x":0.18,"y":0},{"s":"高斯表面","x":0.195,"y":0},
      {"s":"非高斯表面","x":-0.195,"y":0},{"s":"非高斯表面","x":-0.18,"y":0},{"s":"非高斯表面","x":-0.165,"y":0},{"s":"非高斯表面","x":-0.15,"y":9},{"s":"非高斯表面","x":-0.135,"y":89},{"s":"非高斯表面","x":-0.12,"y":347},{"s":"非高斯表面","x":-0.105,"y":930},{"s":"非高斯表面","x":-0.09,"y":1076},{"s":"非高斯表面","x":-0.075,"y":930},{"s":"非高斯表面","x":-0.06,"y":798},{"s":"非高斯表面","x":-0.045,"y":844},{"s":"非高斯表面","x":-0.03,"y":1124},{"s":"非高斯表面","x":-0.015,"y":1369},{"s":"非高斯表面","x":0,"y":1346},{"s":"非高斯表面","x":0.015,"y":1138},{"s":"非高斯表面","x":0.03,"y":1156},{"s":"非高斯表面","x":0.045,"y":1383},{"s":"非高斯表面","x":0.06,"y":1454},{"s":"非高斯表面","x":0.075,"y":1244},{"s":"非高斯表面","x":0.09,"y":1061},{"s":"非高斯表面","x":0.105,"y":1031},{"s":"非高斯表面","x":0.12,"y":937},{"s":"非高斯表面","x":0.135,"y":756},{"s":"非高斯表面","x":0.15,"y":213},{"s":"非高斯表面","x":0.165,"y":18},{"s":"非高斯表面","x":0.18,"y":0},{"s":"非高斯表面","x":0.195,"y":0}
    ]
  },
  "vconcat": [
    {
      "concat": [
        {
          "width": 1298, "height": 773,
          "data": {"name": "a"},
          "title": {"text": "(a) 相对滑移距离分布", "offset": 18},
          "layer": [
            {
              "mark": {"type": "line", "strokeWidth": 4},
              "encoding": {
                "x": {"field": "x", "type": "quantitative", "scale": {"domain": [-0.2, 0.2], "nice": false}, "axis": {"orient": "bottom", "title": "x/mm", "values": [-0.2, -0.1, 0, 0.1, 0.2], "format": "~g", "labelPadding": 43, "titlePadding": 19}},
                "y": {"field": "y", "type": "quantitative", "scale": {"domain": [0, 6], "nice": false}, "axis": {"orient": "left", "title": "相对滑移距离/μm", "values": [0, 1, 2, 3, 4, 5, 6], "format": "d", "titlePadding": 89}},
                "stroke": {
                  "field": "s", "type": "nominal",
                  "scale": {"domain": ["光滑表面F=10 N", "光滑表面F=50 N", "光滑表面F=80 N", "高斯表面F=10 N", "高斯表面F=50 N", "高斯表面F=80 N", "非高斯表面F=10 N", "非高斯表面F=50 N", "非高斯表面F=80 N"], "range": ["#7EC8F5", "#0000FF", "#000080", "#A8F0B0", "#00DD00", "#007F00", "#F4A09A", "#F070A8", "#D0105A"]},
                  "legend": {
                    "orient": "none", "legendX": 35, "legendY": 11, "title": null, "columns": 2, "columnPadding": 80, "rowPadding": 4, "symbolSize": 1400, "labelOffset": 44,
                    "encode": {"symbols": {"update": {
                      "shape": {"signal": "['M-2.95,0H-0.5M0.5,0H2.95M0.5,0A0.5,0.5 0 1,1 -0.5,0A0.5,0.5 0 1,1 0.5,0Z','M-2.95,0H-0.8M0.8,0H2.95M0,-0.85L0.9,0.7L-0.9,0.7Z','M-2.95,0H-0.75M0.75,0H2.95M0.75,0A0.75,0.75 0 1,1 -0.75,0A0.75,0.75 0 1,1 0.75,0Z','M-2.95,0H-0.7M0.7,0H2.95M0.85,0L-0.7,-0.9L-0.7,0.9Z','M-2.95,0H-0.7M0.7,0H2.95M-0.85,0L0.7,-0.9L0.7,0.9Z','M-2.95,0H-0.6M0.6,0H2.95M0,-1L0.289,-0.5L0.866,-0.5L0.577,0L0.866,0.5L0.289,0.5L0,1L-0.289,0.5L-0.866,0.5L-0.577,0L-0.866,-0.5L-0.289,-0.5Z','M-2.95,0H-0.7M0.7,0H2.95M-0.7,-0.7H0.7V0.7H-0.7Z','M-2.95,0H-0.72M0.72,0H2.95M0,-1L0.72,0L0,1L-0.72,0Z','M-2.95,0H-0.5M0.5,0H2.95M0,-1L0.225,-0.309L0.951,-0.309L0.363,0.118L0.588,0.809L0,0.382L-0.588,0.809L-0.363,0.118L-0.951,-0.309L-0.225,-0.309Z'][indexof(['光滑表面F=10 N','光滑表面F=50 N','光滑表面F=80 N','高斯表面F=10 N','高斯表面F=50 N','高斯表面F=80 N','非高斯表面F=10 N','非高斯表面F=50 N','非高斯表面F=80 N'], datum.value)]"},
                      "fill": {"signal": "['#7EC8F5','#0000FF','#000080','#A8F0B0','#00DD00','#007F00','#F4A09A','#F070A8','#D0105A'][indexof(['光滑表面F=10 N','光滑表面F=50 N','光滑表面F=80 N','高斯表面F=10 N','高斯表面F=50 N','高斯表面F=80 N','非高斯表面F=10 N','非高斯表面F=50 N','非高斯表面F=80 N'], datum.value)]"},
                      "stroke": {"signal": "['#7EC8F5','#0000FF','#000080','#A8F0B0','#00DD00','#007F00','#F4A09A','#F070A8','#D0105A'][indexof(['光滑表面F=10 N','光滑表面F=50 N','光滑表面F=80 N','高斯表面F=10 N','高斯表面F=50 N','高斯表面F=80 N','非高斯表面F=10 N','非高斯表面F=50 N','非高斯表面F=80 N'], datum.value)]"},
                      "strokeDash": {"signal": "[[24,10,5,10],[5,8],[1,0],[24,10,5,10],[5,8],[1,0],[22,12],[5,8],[1,0]][indexof(['光滑表面F=10 N','光滑表面F=50 N','光滑表面F=80 N','高斯表面F=10 N','高斯表面F=50 N','高斯表面F=80 N','非高斯表面F=10 N','非高斯表面F=50 N','非高斯表面F=80 N'], datum.value)]"},
                      "strokeWidth": {"value": 4},
                      "opacity": {"value": 1}
                    }}}
                  }
                },
                "strokeDash": {"field": "s", "type": "nominal", "scale": {"domain": ["光滑表面F=10 N", "光滑表面F=50 N", "光滑表面F=80 N", "高斯表面F=10 N", "高斯表面F=50 N", "高斯表面F=80 N", "非高斯表面F=10 N", "非高斯表面F=50 N", "非高斯表面F=80 N"], "range": [[24, 10, 5, 10], [5, 8], [1, 0], [24, 10, 5, 10], [5, 8], [1, 0], [22, 12], [5, 8], [1, 0]]}, "legend": null}
              }
            },
            {
              "mark": {"type": "point", "filled": true, "size": 1400, "strokeWidth": 2, "opacity": 1},
              "encoding": {
                "x": {"field": "x", "type": "quantitative", "axis": {"orient": "top", "labels": false, "title": null, "values": [-0.2, -0.1, 0, 0.1, 0.2]}},
                "y": {"field": "y", "type": "quantitative", "axis": {"orient": "right", "labels": false, "title": null, "values": [0, 1, 2, 3, 4, 5, 6]}},
                "stroke": {"field": "s", "type": "nominal", "scale": {"domain": ["光滑表面F=10 N", "光滑表面F=50 N", "光滑表面F=80 N", "高斯表面F=10 N", "高斯表面F=50 N", "高斯表面F=80 N", "非高斯表面F=10 N", "非高斯表面F=50 N", "非高斯表面F=80 N"], "range": ["#7EC8F5", "#0000FF", "#000080", "#A8F0B0", "#00DD00", "#007F00", "#F4A09A", "#F070A8", "#D0105A"]}, "legend": null},
                "fill": {"field": "s", "type": "nominal", "scale": {"domain": ["光滑表面F=10 N", "光滑表面F=50 N", "光滑表面F=80 N", "高斯表面F=10 N", "高斯表面F=50 N", "高斯表面F=80 N", "非高斯表面F=10 N", "非高斯表面F=50 N", "非高斯表面F=80 N"], "range": ["#7EC8F5", "#0000FF", "#000080", "#A8F0B0", "#00DD00", "#007F00", "#F4A09A", "#F070A8", "#D0105A"]}, "legend": null},
                "shape": {"field": "s", "type": "nominal", "scale": {"domain": ["光滑表面F=10 N", "光滑表面F=50 N", "光滑表面F=80 N", "高斯表面F=10 N", "高斯表面F=50 N", "高斯表面F=80 N", "非高斯表面F=10 N", "非高斯表面F=50 N", "非高斯表面F=80 N"], "range": ["M0.5,0A0.5,0.5 0 1,1 -0.5,0A0.5,0.5 0 1,1 0.5,0Z", "M0,-0.85L0.9,0.7L-0.9,0.7Z", "M0.75,0A0.75,0.75 0 1,1 -0.75,0A0.75,0.75 0 1,1 0.75,0Z", "M0.85,0L-0.7,-0.9L-0.7,0.9Z", "M-0.85,0L0.7,-0.9L0.7,0.9Z", "M0,-1L0.289,-0.5L0.866,-0.5L0.577,0L0.866,0.5L0.289,0.5L0,1L-0.289,0.5L-0.866,0.5L-0.577,0L-0.866,-0.5L-0.289,-0.5Z", "M-0.7,-0.7H0.7V0.7H-0.7Z", "M0,-1L0.72,0L0,1L-0.72,0Z", "M0,-1L0.225,-0.309L0.951,-0.309L0.363,0.118L0.588,0.809L0,0.382L-0.588,0.809L-0.363,0.118L-0.951,-0.309L-0.225,-0.309Z"]}, "legend": null}
              }
            }
          ],
          "resolve": {"axis": {"x": "independent", "y": "independent"}, "scale": {"stroke": "independent"}}
        },
        {
          "width": 1300, "height": 773,
          "data": {"name": "b"},
          "title": {"text": "(b) F=10 N实际接触面积", "offset": 18},
          "layer": [
            {
              "mark": {"type": "line", "strokeWidth": 4},
              "encoding": {
                "x": {"field": "x", "type": "quantitative", "scale": {"domain": [0, 2], "nice": false}, "axis": {"orient": "bottom", "title": "分析步", "values": [0, 0.5, 1, 1.5, 2], "labelExpr": "datum.value == 0 ? '0' : format(datum.value, '.1f')", "labelPadding": 38, "titlePadding": 19}},
                "y": {"field": "y", "type": "quantitative", "scale": {"domain": [0, 0.02], "nice": false}, "axis": {"orient": "left", "title": "接触面积/mm²", "values": [0.005, 0.01, 0.015, 0.02], "format": ".3f", "titlePadding": 65}},
                "stroke": {
                  "field": "s", "type": "nominal",
                  "scale": {"domain": ["光滑表面", "高斯表面", "非高斯表面"], "range": ["#0000FF", "#1FA01F", "#FF00FF"]},
                  "legend": {
                    "orient": "none", "legendX": 811, "legendY": 561, "title": null, "rowPadding": 8, "symbolSize": 1000, "labelOffset": 51,
                    "encode": {"symbols": {"update": {
                      "shape": {"signal": "['M-4,0H-0.75M0.75,0H4M0.75,0A0.75,0.75 0 1,1 -0.75,0A0.75,0.75 0 1,1 0.75,0Z','M-4,0H-0.7M0.7,0H4M0.85,0L-0.7,-0.9L-0.7,0.9Z','M-4,0H-0.7M0.7,0H4M-0.7,-0.7H0.7V0.7H-0.7Z'][indexof(['光滑表面','高斯表面','非高斯表面'], datum.value)]"},
                      "fill": {"signal": "['#0000FF','#1FA01F','#FF00FF'][indexof(['光滑表面','高斯表面','非高斯表面'], datum.value)]"},
                      "stroke": {"signal": "['#0000FF','#1FA01F','#FF00FF'][indexof(['光滑表面','高斯表面','非高斯表面'], datum.value)]"},
                      "strokeDash": {"value": [24, 10, 5, 10]},
                      "strokeWidth": {"value": 4},
                      "opacity": {"value": 1}
                    }}}
                  }
                },
                "strokeDash": {"value": [24, 10, 5, 10]}
              }
            },
            {
              "mark": {"type": "point", "filled": true, "size": 1000, "strokeWidth": 2, "opacity": 1},
              "encoding": {
                "x": {"field": "x", "type": "quantitative", "axis": {"orient": "top", "labels": false, "title": null, "values": [0, 0.5, 1, 1.5, 2]}},
                "y": {"field": "y", "type": "quantitative", "axis": {"orient": "right", "labels": false, "title": null, "values": [0.005, 0.01, 0.015, 0.02]}},
                "stroke": {"field": "s", "type": "nominal", "scale": {"domain": ["光滑表面", "高斯表面", "非高斯表面"], "range": ["#0000FF", "#1FA01F", "#FF00FF"]}, "legend": null},
                "fill": {"field": "s", "type": "nominal", "scale": {"domain": ["光滑表面", "高斯表面", "非高斯表面"], "range": ["#0000FF", "#1FA01F", "#FF00FF"]}, "legend": null},
                "shape": {"field": "s", "type": "nominal", "scale": {"domain": ["光滑表面", "高斯表面", "非高斯表面"], "range": ["M0.75,0A0.75,0.75 0 1,1 -0.75,0A0.75,0.75 0 1,1 0.75,0Z", "M0.85,0L-0.7,-0.9L-0.7,0.9Z", "M-0.7,-0.7H0.7V0.7H-0.7Z"]}, "legend": null}
              }
            }
          ],
          "resolve": {"axis": {"x": "independent", "y": "independent"}, "scale": {"stroke": "independent"}}
        },
        {
          "width": 1298, "height": 753,
          "data": {"name": "c"},
          "title": {"text": "(c) F=50 N实际接触面积", "offset": 25},
          "layer": [
            {
              "mark": {"type": "line", "strokeWidth": 4},
              "encoding": {
                "x": {"field": "x", "type": "quantitative", "scale": {"domain": [0, 2], "nice": false}, "axis": {"orient": "bottom", "title": "分析步", "values": [0, 0.5, 1, 1.5, 2], "labelExpr": "datum.value == 0 ? '0' : format(datum.value, '.1f')", "labelPadding": 38, "titlePadding": 17}},
                "y": {"field": "y", "type": "quantitative", "scale": {"domain": [0, 0.06], "nice": false}, "axis": {"orient": "left", "title": "接触面积/mm²", "values": [0.01, 0.02, 0.03, 0.04, 0.05, 0.06], "format": ".2f", "titlePadding": 84}},
                "stroke": {
                  "field": "s", "type": "nominal",
                  "scale": {"domain": ["光滑表面", "高斯表面", "非高斯表面"], "range": ["#0000FF", "#1FA01F", "#FF00FF"]},
                  "legend": {
                    "orient": "none", "legendX": 824, "legendY": 550, "title": null, "rowPadding": 5, "symbolSize": 1000, "labelOffset": 49,
                    "encode": {"symbols": {"update": {
                      "shape": {"signal": "['M-3.65,0H-0.8M0.8,0H3.65M0,-0.85L0.9,0.7L-0.9,0.7Z','M-3.65,0H-0.7M0.7,0H3.65M-0.85,0L0.7,-0.9L0.7,0.9Z','M-3.65,0H-0.72M0.72,0H3.65M0,-1L0.72,0L0,1L-0.72,0Z'][indexof(['光滑表面','高斯表面','非高斯表面'], datum.value)]"},
                      "fill": {"signal": "['#0000FF','#1FA01F','#FF00FF'][indexof(['光滑表面','高斯表面','非高斯表面'], datum.value)]"},
                      "stroke": {"signal": "['#0000FF','#1FA01F','#FF00FF'][indexof(['光滑表面','高斯表面','非高斯表面'], datum.value)]"},
                      "strokeDash": {"value": [5, 8]},
                      "strokeWidth": {"value": 4},
                      "opacity": {"value": 1}
                    }}}
                  }
                },
                "strokeDash": {"value": [5, 8]}
              }
            },
            {
              "mark": {"type": "point", "filled": true, "size": 1000, "strokeWidth": 2, "opacity": 1},
              "encoding": {
                "x": {"field": "x", "type": "quantitative", "axis": {"orient": "top", "labels": false, "title": null, "values": [0, 0.5, 1, 1.5, 2]}},
                "y": {"field": "y", "type": "quantitative", "axis": {"orient": "right", "labels": false, "title": null, "values": [0.01, 0.02, 0.03, 0.04, 0.05, 0.06]}},
                "stroke": {"field": "s", "type": "nominal", "scale": {"domain": ["光滑表面", "高斯表面", "非高斯表面"], "range": ["#0000FF", "#1FA01F", "#FF00FF"]}, "legend": null},
                "fill": {"field": "s", "type": "nominal", "scale": {"domain": ["光滑表面", "高斯表面", "非高斯表面"], "range": ["#0000FF", "#1FA01F", "#FF00FF"]}, "legend": null},
                "shape": {"field": "s", "type": "nominal", "scale": {"domain": ["光滑表面", "高斯表面", "非高斯表面"], "range": ["M0,-0.85L0.9,0.7L-0.9,0.7Z", "M-0.85,0L0.7,-0.9L0.7,0.9Z", "M0,-1L0.72,0L0,1L-0.72,0Z"]}, "legend": null}
              }
            }
          ],
          "resolve": {"axis": {"x": "independent", "y": "independent"}, "scale": {"stroke": "independent"}}
        },
        {
          "width": 1300, "height": 753,
          "data": {"name": "d"},
          "title": {"text": "(d) F=80 N实际接触面积", "offset": 25},
          "layer": [
            {
              "mark": {"type": "line", "strokeWidth": 4},
              "encoding": {
                "x": {"field": "x", "type": "quantitative", "scale": {"domain": [0, 2], "nice": false}, "axis": {"orient": "bottom", "title": "分析步", "values": [0, 0.5, 1, 1.5, 2], "labelExpr": "datum.value == 0 ? '0' : format(datum.value, '.1f')", "labelPadding": 37, "titlePadding": 17}},
                "y": {"field": "y", "type": "quantitative", "scale": {"domain": [0, 0.08], "nice": false}, "axis": {"orient": "left", "title": "接触面积/mm²", "values": [0.02, 0.04, 0.06, 0.08], "format": ".2f", "titlePadding": 71}},
                "stroke": {
                  "field": "s", "type": "nominal",
                  "scale": {"domain": ["光滑表面", "高斯表面", "非高斯表面"], "range": ["#0000FF", "#1FA01F", "#FF00FF"]},
                  "legend": {
                    "orient": "none", "legendX": 815, "legendY": 553, "title": null, "rowPadding": 3, "symbolSize": 1000, "labelOffset": 47,
                    "encode": {"symbols": {"update": {
                      "shape": {"signal": "['M-3.9,0H-0.75M0.75,0H3.9M0.75,0A0.75,0.75 0 1,1 -0.75,0A0.75,0.75 0 1,1 0.75,0Z','M-3.9,0H-0.8M0.8,0H3.9M0,0.85L0.9,-0.7L-0.9,-0.7Z','M-3.9,0H-0.5M0.5,0H3.9M0,-1L0.225,-0.309L0.951,-0.309L0.363,0.118L0.588,0.809L0,0.382L-0.588,0.809L-0.363,0.118L-0.951,-0.309L-0.225,-0.309Z'][indexof(['光滑表面','高斯表面','非高斯表面'], datum.value)]"},
                      "fill": {"signal": "['#0000FF','#1FA01F','#FF00FF'][indexof(['光滑表面','高斯表面','非高斯表面'], datum.value)]"},
                      "stroke": {"signal": "['#0000FF','#1FA01F','#FF00FF'][indexof(['光滑表面','高斯表面','非高斯表面'], datum.value)]"},
                      "strokeDash": {"value": [1, 0]},
                      "strokeWidth": {"value": 4},
                      "opacity": {"value": 1}
                    }}}
                  }
                }
              }
            },
            {
              "mark": {"type": "point", "filled": true, "size": 1000, "strokeWidth": 2, "opacity": 1},
              "encoding": {
                "x": {"field": "x", "type": "quantitative", "axis": {"orient": "top", "labels": false, "title": null, "values": [0, 0.5, 1, 1.5, 2]}},
                "y": {"field": "y", "type": "quantitative", "axis": {"orient": "right", "labels": false, "title": null, "values": [0.02, 0.04, 0.06, 0.08]}},
                "stroke": {"field": "s", "type": "nominal", "scale": {"domain": ["光滑表面", "高斯表面", "非高斯表面"], "range": ["#0000FF", "#1FA01F", "#FF00FF"]}, "legend": null},
                "fill": {"field": "s", "type": "nominal", "scale": {"domain": ["光滑表面", "高斯表面", "非高斯表面"], "range": ["#0000FF", "#1FA01F", "#FF00FF"]}, "legend": null},
                "shape": {"field": "s", "type": "nominal", "scale": {"domain": ["光滑表面", "高斯表面", "非高斯表面"], "range": ["M0.75,0A0.75,0.75 0 1,1 -0.75,0A0.75,0.75 0 1,1 0.75,0Z", "M0,0.85L0.9,-0.7L-0.9,-0.7Z", "M0,-1L0.225,-0.309L0.951,-0.309L0.363,0.118L0.588,0.809L0,0.382L-0.588,0.809L-0.363,0.118L-0.951,-0.309L-0.225,-0.309Z"]}, "legend": null}
              }
            }
          ],
          "resolve": {"axis": {"x": "independent", "y": "independent"}, "scale": {"stroke": "independent"}}
        },
        {
          "width": 1298, "height": 726,
          "data": {"name": "e"},
          "title": {"text": "(e) F=10 N剪切摩擦力分布", "offset": 22},
          "layer": [
            {
              "mark": {"type": "line", "strokeWidth": 4},
              "encoding": {
                "x": {"field": "x", "type": "quantitative", "scale": {"domain": [-0.2, 0.2], "nice": false}, "axis": {"orient": "bottom", "title": "x/mm", "values": [-0.2, -0.1, 0, 0.1, 0.2], "format": "~g", "labelPadding": 30, "titlePadding": 19}},
                "y": {"field": "y", "type": "quantitative", "scale": {"domain": [0, 1000], "nice": false}, "axis": {"orient": "left", "title": "剪切摩擦力/MPa", "values": [0, 200, 400, 600, 800, 1000], "format": "d", "titlePadding": 57}},
                "stroke": {
                  "field": "s", "type": "nominal",
                  "scale": {"domain": ["光滑表面", "高斯表面", "非高斯表面"], "range": ["#0000FF", "#1FA01F", "#FF00FF"]},
                  "legend": {
                    "orient": "none", "legendX": 70, "legendY": 27, "title": null, "rowPadding": -4, "symbolSize": 850, "labelOffset": 54,
                    "encode": {"symbols": {"update": {
                      "shape": {"signal": "['M-4.1,0H-0.75M0.75,0H4.1M0.75,0A0.75,0.75 0 1,1 -0.75,0A0.75,0.75 0 1,1 0.75,0Z','M-4.1,0H-0.7M0.85,0H4.1M0.85,0L-0.7,-0.9L-0.7,0.9Z','M-4.1,0H-0.7M0.7,0H4.1M-0.7,-0.7H0.7V0.7H-0.7Z'][indexof(['光滑表面','高斯表面','非高斯表面'], datum.value)]"},
                      "fill": {"signal": "['#0000FF','white','#FF00FF'][indexof(['光滑表面','高斯表面','非高斯表面'], datum.value)]"},
                      "stroke": {"signal": "['#0000FF','#1FA01F','#FF00FF'][indexof(['光滑表面','高斯表面','非高斯表面'], datum.value)]"},
                      "strokeDash": {"value": [24, 10, 5, 10]},
                      "strokeWidth": {"value": 4},
                      "opacity": {"value": 1}
                    }}}
                  }
                },
                "strokeDash": {"value": [24, 10, 5, 10]}
              }
            },
            {
              "mark": {"type": "point", "filled": true, "size": 850, "strokeWidth": 3, "opacity": 1},
              "encoding": {
                "x": {"field": "x", "type": "quantitative", "axis": {"orient": "top", "labels": false, "title": null, "values": [-0.2, -0.1, 0, 0.1, 0.2]}},
                "y": {"field": "y", "type": "quantitative", "axis": {"orient": "right", "labels": false, "title": null, "values": [0, 200, 400, 600, 800, 1000]}},
                "stroke": {"field": "s", "type": "nominal", "scale": {"domain": ["光滑表面", "高斯表面", "非高斯表面"], "range": ["#0000FF", "#1FA01F", "#FF00FF"]}, "legend": null},
                "fill": {"field": "s", "type": "nominal", "scale": {"domain": ["光滑表面", "高斯表面", "非高斯表面"], "range": ["#0000FF", "transparent", "#FF00FF"]}, "legend": null},
                "shape": {"field": "s", "type": "nominal", "scale": {"domain": ["光滑表面", "高斯表面", "非高斯表面"], "range": ["M0.75,0A0.75,0.75 0 1,1 -0.75,0A0.75,0.75 0 1,1 0.75,0Z", "M0.85,0L-0.7,-0.9L-0.7,0.9Z", "M-0.7,-0.7H0.7V0.7H-0.7Z"]}, "legend": null}
              }
            }
          ],
          "resolve": {"axis": {"x": "independent", "y": "independent"}, "scale": {"stroke": "independent"}}
        },
        {
          "width": 1300, "height": 718,
          "data": {"name": "f"},
          "title": {"text": "(f) F=50 N剪切摩擦力分布", "offset": 17},
          "layer": [
            {
              "mark": {"type": "line", "strokeWidth": 4},
              "encoding": {
                "x": {"field": "x", "type": "quantitative", "scale": {"domain": [-0.22, 0.22], "nice": false}, "axis": {"orient": "bottom", "title": "x/mm", "values": [-0.2, -0.1, 0, 0.1, 0.2], "format": "~g", "labelPadding": 30, "titlePadding": 22}},
                "y": {"field": "y", "type": "quantitative", "scale": {"domain": [0, 1600], "nice": false}, "axis": {"orient": "left", "title": "剪切摩擦力/MPa", "values": [0, 400, 800, 1200, 1600], "format": "d", "titlePadding": 71}},
                "stroke": {
                  "field": "s", "type": "nominal",
                  "scale": {"domain": ["光滑表面", "高斯表面", "非高斯表面"], "range": ["#0000FF", "#1FA01F", "#FF00FF"]},
                  "legend": {
                    "orient": "none", "legendX": 91, "legendY": 56, "title": null, "rowPadding": -3, "symbolSize": 850, "labelOffset": 34,
                    "encode": {"symbols": {"update": {
                      "shape": {"signal": "['M-3.9,0H-0.9M0.9,0H3.9M0,-0.85L0.9,0.7L-0.9,0.7Z','M-3.9,0H-0.85M0.7,0H3.9M-0.85,0L0.7,-0.9L0.7,0.9Z','M-3.9,0H-0.72M0.72,0H3.9M0,-1L0.72,0L0,1L-0.72,0Z'][indexof(['光滑表面','高斯表面','非高斯表面'], datum.value)]"},
                      "fill": {"signal": "['white','white','#FF00FF'][indexof(['光滑表面','高斯表面','非高斯表面'], datum.value)]"},
                      "stroke": {"signal": "['#0000FF','#1FA01F','#FF00FF'][indexof(['光滑表面','高斯表面','非高斯表面'], datum.value)]"},
                      "strokeDash": {"value": [5, 8]},
                      "strokeWidth": {"value": 4},
                      "opacity": {"value": 1}
                    }}}
                  }
                },
                "strokeDash": {"value": [5, 8]}
              }
            },
            {
              "mark": {"type": "point", "filled": true, "size": 850, "strokeWidth": 3, "opacity": 1},
              "encoding": {
                "x": {"field": "x", "type": "quantitative", "axis": {"orient": "top", "labels": false, "title": null, "values": [-0.2, -0.1, 0, 0.1, 0.2]}},
                "y": {"field": "y", "type": "quantitative", "axis": {"orient": "right", "labels": false, "title": null, "values": [0, 400, 800, 1200, 1600]}},
                "stroke": {"field": "s", "type": "nominal", "scale": {"domain": ["光滑表面", "高斯表面", "非高斯表面"], "range": ["#0000FF", "#1FA01F", "#FF00FF"]}, "legend": null},
                "fill": {"field": "s", "type": "nominal", "scale": {"domain": ["光滑表面", "高斯表面", "非高斯表面"], "range": ["transparent", "transparent", "#FF00FF"]}, "legend": null},
                "shape": {"field": "s", "type": "nominal", "scale": {"domain": ["光滑表面", "高斯表面", "非高斯表面"], "range": ["M0,-0.85L0.9,0.7L-0.9,0.7Z", "M-0.85,0L0.7,-0.9L0.7,0.9Z", "M0,-1L0.72,0L0,1L-0.72,0Z"]}, "legend": null}
              }
            }
          ],
          "resolve": {"axis": {"x": "independent", "y": "independent"}, "scale": {"stroke": "independent"}}
        }
      ],
      "columns": 2,
      "spacing": {"row": 272, "column": 486},
      "bounds": "flush", "align": "each",
      "resolve": {"scale": {"stroke": "independent", "fill": "independent", "shape": "independent", "strokeDash": "independent"}, "legend": {"stroke": "independent"}}
    },
    {
      "hconcat": [
        {"width": 1, "height": 731, "data": {"values": []}, "mark": "point", "encoding": {}},
        {
          "width": 1306, "height": 731,
          "data": {"name": "g"},
          "title": {"text": "(g) F=80 N剪切摩擦力分布", "offset": 29},
          "layer": [
            {
              "mark": {"type": "line", "strokeWidth": 4},
              "encoding": {
                "x": {"field": "x", "type": "quantitative", "scale": {"domain": [-0.2, 0.2], "nice": false}, "axis": {"orient": "bottom", "title": "x/mm", "values": [-0.2, -0.1, 0, 0.1, 0.2], "format": "~g", "labelPadding": 36, "titlePadding": 19}},
                "y": {"field": "y", "type": "quantitative", "scale": {"domain": [0, 2000], "nice": false}, "axis": {"orient": "left", "title": "剪切摩擦力/MPa", "values": [0, 500, 1000, 1500, 2000], "format": "d", "titlePadding": 55}},
                "stroke": {
                  "field": "s", "type": "nominal",
                  "scale": {"domain": ["光滑表面", "高斯表面", "非高斯表面"], "range": ["#0000FF", "#1FA01F", "#FF00FF"]},
                  "legend": {
                    "orient": "none", "legendX": 60, "legendY": 23, "title": null, "rowPadding": -5, "symbolSize": 850, "labelOffset": 42,
                    "encode": {"symbols": {"update": {
                      "shape": {"signal": "['M-4.1,0H-0.75M0.75,0H4.1M0.75,0A0.75,0.75 0 1,1 -0.75,0A0.75,0.75 0 1,1 0.75,0Z','M-4.1,0H-0.8M0.8,0H4.1M0,0.85L0.9,-0.7L-0.9,-0.7Z','M-4.1,0H-0.5M0.5,0H4.1M0,-1L0.225,-0.309L0.951,-0.309L0.363,0.118L0.588,0.809L0,0.382L-0.588,0.809L-0.363,0.118L-0.951,-0.309L-0.225,-0.309Z'][indexof(['光滑表面','高斯表面','非高斯表面'], datum.value)]"},
                      "fill": {"signal": "['white','white','#FF00FF'][indexof(['光滑表面','高斯表面','非高斯表面'], datum.value)]"},
                      "stroke": {"signal": "['#0000FF','#1FA01F','#FF00FF'][indexof(['光滑表面','高斯表面','非高斯表面'], datum.value)]"},
                      "strokeDash": {"value": [1, 0]},
                      "strokeWidth": {"value": 4},
                      "opacity": {"value": 1}
                    }}}
                  }
                }
              }
            },
            {
              "mark": {"type": "point", "filled": true, "size": 850, "strokeWidth": 3, "opacity": 1},
              "encoding": {
                "x": {"field": "x", "type": "quantitative", "axis": {"orient": "top", "labels": false, "title": null, "values": [-0.2, -0.1, 0, 0.1, 0.2]}},
                "y": {"field": "y", "type": "quantitative", "axis": {"orient": "right", "labels": false, "title": null, "values": [0, 500, 1000, 1500, 2000]}},
                "stroke": {"field": "s", "type": "nominal", "scale": {"domain": ["光滑表面", "高斯表面", "非高斯表面"], "range": ["#0000FF", "#1FA01F", "#FF00FF"]}, "legend": null},
                "fill": {"field": "s", "type": "nominal", "scale": {"domain": ["光滑表面", "高斯表面", "非高斯表面"], "range": ["transparent", "transparent", "#FF00FF"]}, "legend": null},
                "shape": {"field": "s", "type": "nominal", "scale": {"domain": ["光滑表面", "高斯表面", "非高斯表面"], "range": ["M0.75,0A0.75,0.75 0 1,1 -0.75,0A0.75,0.75 0 1,1 0.75,0Z", "M0,0.85L0.9,-0.7L-0.9,-0.7Z", "M0,-1L0.225,-0.309L0.951,-0.309L0.363,0.118L0.588,0.809L0,0.382L-0.588,0.809L-0.363,0.118L-0.951,-0.309L-0.225,-0.309Z"]}, "legend": null}
              }
            }
          ],
          "resolve": {"axis": {"x": "independent", "y": "independent"}, "scale": {"stroke": "independent"}}
        }
      ],
      "spacing": 713,
      "resolve": {"scale": {"stroke": "independent", "fill": "independent", "shape": "independent", "strokeDash": "independent"}, "legend": {"stroke": "independent"}}
    }
  ],
  "spacing": 32,
  "resolve": {"scale": {"stroke": "independent", "fill": "independent", "shape": "independent", "strokeDash": "independent"}, "legend": {"stroke": "independent"}}
}
